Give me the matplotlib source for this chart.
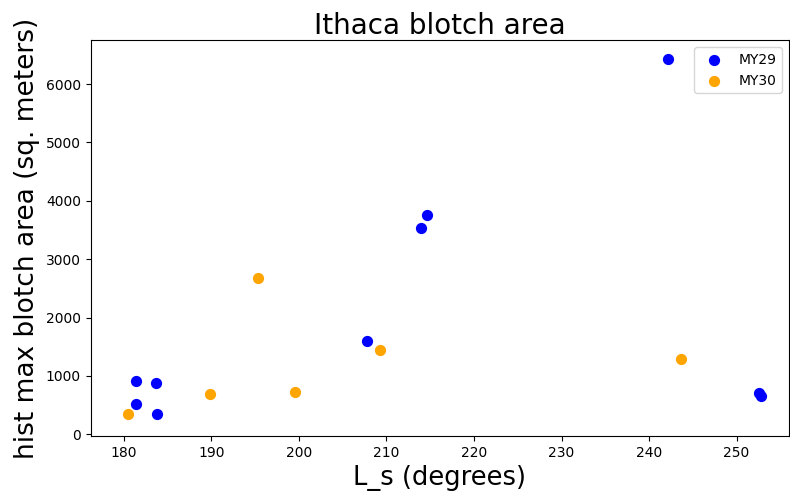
import matplotlib
matplotlib.use('Agg')
import matplotlib.pyplot as plt

# solar longitude (deg) and max blotch area (sq. m) for each Mars year
ls_my29 = [181.4, 183.7, 181.4, 183.8, 207.8, 213.9, 214.6, 242.2, 252.6, 252.8]
area_my29 = [909, 886, 526, 355, 1594, 3526, 3754, 6434, 710, 650]

ls_my30 = [180.5, 189.8, 195.3, 199.5, 209.3, 243.6]
area_my30 = [355, 697, 2680, 720, 1440, 1297]

fig = plt.figure(figsize=(7.9, 4.93), dpi=100)
ax = fig.add_axes([0.1148, 0.1156, 0.884, 0.803])

ax.scatter(ls_my29, area_my29, color='blue', s=50, label='MY29')
ax.scatter(ls_my30, area_my30, color='orange', s=50, label='MY30')

ax.set_xlim(176.2, 256.0)
ax.set_ylim(-30, 6754)

ax.set_title('Ithaca blotch area', fontsize=20, pad=4)
ax.set_xlabel('L_s (degrees)', fontsize=18.5)
ax.set_ylabel('hist max blotch area (sq. meters)', fontsize=19)
ax.legend(loc='upper right', fontsize=10)

fig.savefig('out.png', dpi=100)
